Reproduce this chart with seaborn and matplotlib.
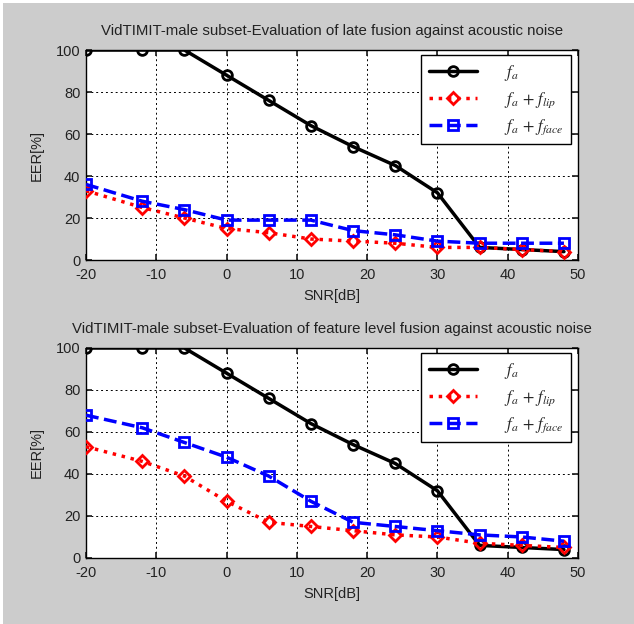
import matplotlib
matplotlib.use("Agg")
import matplotlib.pyplot as plt
from matplotlib.patches import Rectangle
import seaborn as sns
import pandas as pd

snr = [-20, -12, -6, 0, 6, 12, 18, 24, 30, 36, 42, 48]

# late fusion
late_audio = [100, 100, 100, 88, 76, 64, 54, 45, 32, 6, 5, 4]
late_lip = [33, 25, 20, 15, 13, 10, 9, 8, 6, 6, 5, 4]
late_face = [36, 28, 24, 19, 19, 19, 14, 12, 9, 8, 8, 8]

# feature level fusion
feat_audio = [100, 100, 100, 88, 76, 64, 54, 45, 32, 6, 5, 4]
feat_lip = [53, 46, 39, 27, 17, 15, 13, 11, 10, 7, 6, 5]
feat_face = [68, 62, 55, 48, 39, 27, 17, 15, 13, 11, 10, 8]

labels = [r"$f_a$", r"$f_a\,+\,f_{lip}$", r"$f_a\,+\,f_{face}$"]
titles = [
    "VidTIMIT-male subset-Evaluation of late fusion against acoustic noise",
    "VidTIMIT-male subset-Evaluation of feature level fusion against acoustic noise",
]
x_ticks = [-20, -10, 0, 10, 20, 30, 40, 50]
y_ticks = [0, 20, 40, 60, 80, 100]

sns.set_theme(style="white")
plt.rcParams["font.family"] = ["Liberation Sans", "DejaVu Sans"]
plt.rcParams["mathtext.fontset"] = "stix"
plt.rcParams["axes.unicode_minus"] = False

W, H = 634, 624
fig = plt.figure(figsize=(W / 100, H / 100), dpi=100, facecolor="white")
# grey panel with a thin white margin on the top and left
fig.patches.append(Rectangle((3 / W, 0), 1, 1 - 3 / H, transform=fig.transFigure,
                             facecolor="#cccccc", edgecolor="none", zorder=-10))

styles = [
    dict(color="black", linestyle="-", marker="o"),
    dict(color="red", linestyle=":", marker="D"),
    dict(color="blue", linestyle="--", marker="s"),
]

panels = [
    (0.5833, [late_audio, late_lip, late_face]),
    (0.1058, [feat_audio, feat_lip, feat_face]),
]

for (bottom, series), title in zip(panels, titles):
    ax = fig.add_axes([86 / W, bottom, 492 / W, 210 / H])
    ax.set_facecolor("white")
    for vals, lab, st in zip(series, labels, styles):
        df = pd.DataFrame({"snr": snr, "eer": vals})
        ms = 7 if st["marker"] != "D" else 6
        sns.lineplot(data=df, x="snr", y="eer", ax=ax, label=lab,
                     color=st["color"], linestyle=st["linestyle"],
                     marker=st["marker"], markersize=ms, markerfacecolor="none",
                     markeredgecolor=st["color"], markeredgewidth=2,
                     linewidth=2.5, zorder=3)
    ax.set_xlim(-20, 50)
    ax.set_ylim(0, 100)
    ax.set_xticks(x_ticks)
    ax.set_yticks(y_ticks)
    ax.grid(True, color="black", linestyle=(0, (2, 3)), linewidth=0.7)
    ax.tick_params(axis="both", labelsize=10.5, colors="#222222", length=4,
                   direction="in", bottom=True, left=True, top=True, right=True)
    ax.tick_params(axis="x", pad=6)
    ax.tick_params(axis="y", pad=4)
    for sp in ax.spines.values():
        sp.set_color("black")
        sp.set_linewidth(1)
    ax.set_xlabel("SNR[dB]", fontsize=10.5, color="#222222", labelpad=5)
    ax.set_ylabel("EER[%]", fontsize=10.5, color="#222222", labelpad=9)
    ax.set_title(title, fontsize=10.8, color="#222222", pad=11)
    leg = ax.legend(loc="upper right", fontsize=12, frameon=True, fancybox=False,
                    edgecolor="black", framealpha=1, handlelength=2.9,
                    borderpad=0.45, labelspacing=0.45, handletextpad=1.6,
                    borderaxespad=0, bbox_to_anchor=(0.985, 0.975))
    leg.get_frame().set_linewidth(1)

fig.savefig("out.png", dpi=100, facecolor=fig.get_facecolor())
